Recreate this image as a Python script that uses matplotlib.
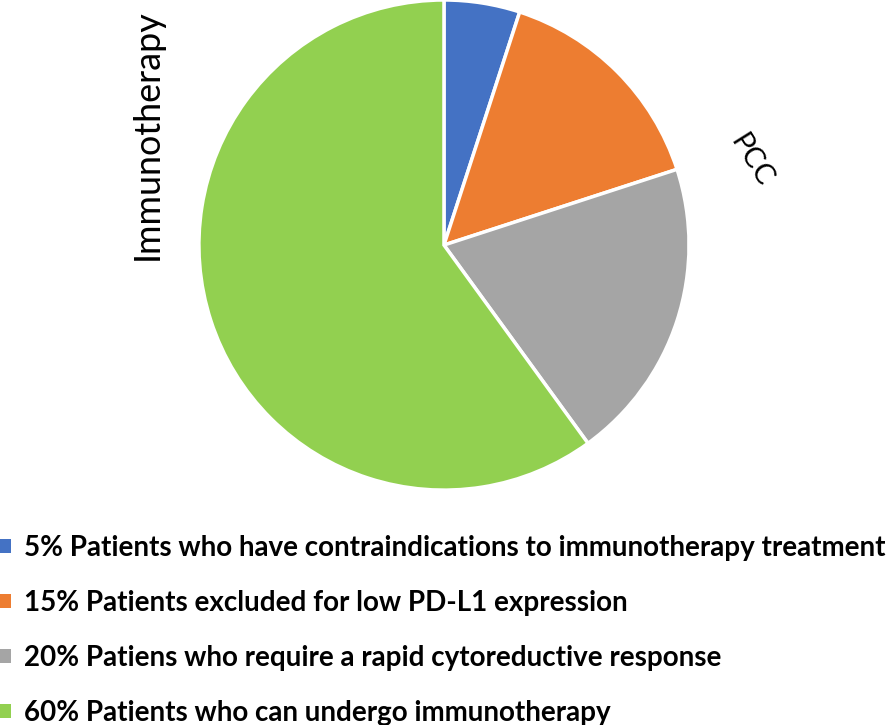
import matplotlib
matplotlib.use("Agg")
import matplotlib.pyplot as plt
from matplotlib.patches import Patch

labels = [
    "5% Patients who have contraindications to immunotherapy treatment",
    "15% Patients excluded for low PD-L1 expression",
    "20% Patiens who require a rapid cytoreductive response",
    "60% Patients who can undergo immunotherapy",
]
values = [5, 15, 20, 60]
colors = ["#4472C4", "#ED7D31", "#A5A5A5", "#92D050"]

fig = plt.figure(figsize=(8.96, 7.25), dpi=100)
ax = fig.add_axes([0.222, 0.324, 0.547, 0.676])
wedges, _ = ax.pie(values, colors=colors, startangle=90, counterclock=False,
                   wedgeprops=dict(edgecolor="white", linewidth=2.5))
for w in wedges:
    w.set_clip_on(False)
ax.set_xlim(-1, 1)
ax.set_ylim(-1, 1)
ax.set_aspect("equal")
ax.axis("off")

fig.text(147/896, 1 - 135/725, "Immunotherapy", rotation=90, ha="center", va="center",
         fontsize=25.8, family="Lato")
fig.text(751/896, 1 - 161/725, "PCC", rotation=-58, ha="center", va="center",
         fontsize=21, family="Lato")

handles = [Patch(facecolor=c, edgecolor="none") for c in colors]
fig.legend(handles, labels, loc="upper left", bbox_to_anchor=(0.0, 1 - 535/725),
           frameon=False, handlelength=0.38, handleheight=0.38, handletextpad=0.5,
           labelspacing=1.04, borderaxespad=0, borderpad=0,
           prop=dict(family="Lato", weight="bold", size=20))

fig.savefig("out.png", dpi=100)
